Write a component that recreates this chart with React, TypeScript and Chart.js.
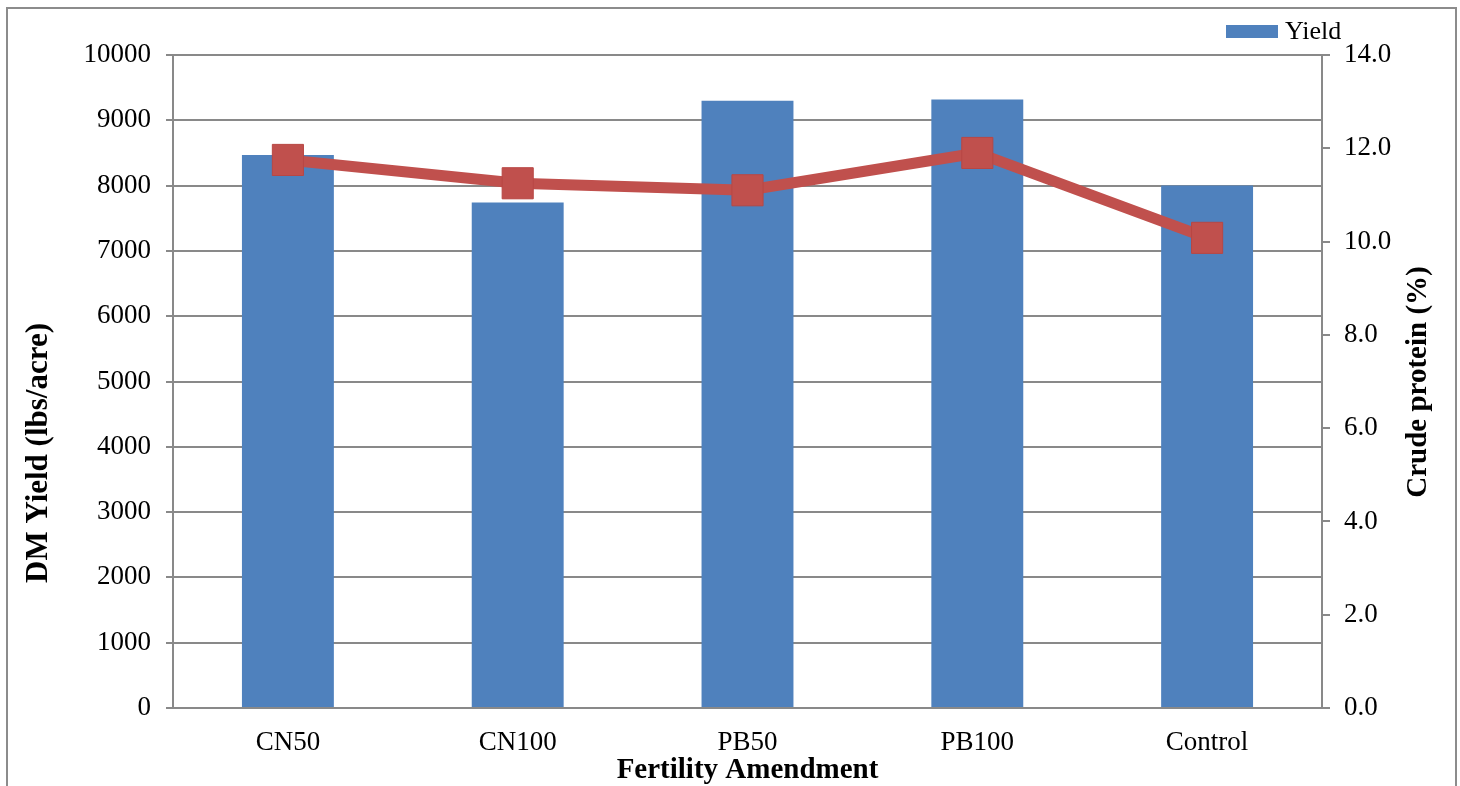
import React, { useEffect, useRef } from "react";
import { Chart, registerables } from "chart.js";

Chart.register(...registerables);

const categories = ["CN50", "CN100", "PB50", "PB100", "Control"];
const yieldValues = [8470, 7740, 9300, 9320, 8000];
const proteinValues = [11.75, 11.25, 11.1, 11.9, 10.08];
const yieldTicks = [0, 1000, 2000, 3000, 4000, 5000, 6000, 7000, 8000, 9000, 10000];
const proteinTicks = [0, 2, 4, 6, 8, 10, 12, 14];

const FONT = "'Liberation Serif', 'Times New Roman', serif";
const GRID = "#898989";

const overlay = {
  id: "overlay",
  afterDraw(chart: any) {
    const ctx = chart.ctx;
    const area = chart.chartArea;
    ctx.save();
    // legend
    ctx.fillStyle = "#4F81BD";
    ctx.fillRect(1226, 25, 52, 13);
    ctx.fillStyle = "#000";
    ctx.font = `26px ${FONT}`;
    ctx.textBaseline = "middle";
    ctx.textAlign = "left";
    ctx.fillText("Yield", 1285, 32);
    // x title
    ctx.font = `bold 29px ${FONT}`;
    ctx.textAlign = "center";
    ctx.fillText("Fertility Amendment", (area.left + area.right) / 2, 771);
    // left title
    ctx.save();
    ctx.font = `bold 31px ${FONT}`;
    ctx.translate(39, 453);
    ctx.rotate(-Math.PI / 2);
    ctx.fillText("DM Yield (lbs/acre)", 0, 0);
    ctx.restore();
    // right title
    ctx.save();
    ctx.font = `bold 29px ${FONT}`;
    ctx.translate(1419, 382);
    ctx.rotate(-Math.PI / 2);
    ctx.fillText("Crude protein (%)", 0, 0);
    ctx.restore();
    ctx.restore();
  },
};

export default function App() {
  const ref = useRef<HTMLCanvasElement>(null);
  useEffect(() => {
    if (!ref.current) return;
    const chart = new Chart(ref.current, {
      type: "bar",
      data: {
        labels: categories,
        datasets: [
          {
            type: "line",
            label: "Crude protein",
            data: proteinValues,
            yAxisID: "y1",
            borderColor: "#C0504D",
            backgroundColor: "#C0504D",
            borderWidth: 11,
            pointStyle: "rect",
            pointRadius: 22,
            pointBorderWidth: 1,
            pointBorderColor: "#B84744",
            pointBackgroundColor: "#C0504D",
            tension: 0,
            order: 0,
          } as any,
          {
            type: "bar",
            label: "Yield",
            data: yieldValues,
            yAxisID: "y",
            backgroundColor: "#4F81BD",
            borderWidth: 0,
            barPercentage: 0.4,
            categoryPercentage: 1,
            order: 1,
          },
        ],
      },
      options: {
        responsive: false,
        animation: false,
        layout: { padding: { top: 55, left: 0, right: 0, bottom: 0 } },
        plugins: { legend: { display: false }, tooltip: { enabled: false } },
        scales: {
          x: {
            grid: { display: false },
            border: { display: true, color: GRID, width: 2 },
            ticks: { color: "#000", font: { family: FONT, size: 27 }, padding: 11 },
            afterFit: (s: any) => { s.height = 78; },
          },
          y: {
            position: "left",
            min: 0,
            max: 10000,
            afterBuildTicks: (s: any) => { s.ticks = yieldTicks.map((v) => ({ value: v })); },
            grid: { color: GRID, lineWidth: 2, tickLength: 7, tickColor: GRID },
            border: { display: true, color: GRID, width: 2 },
            ticks: {
              color: "#000",
              font: { family: FONT, size: 27 },
              padding: 15,
              callback: (v: any) => String(v),
            },
            afterFit: (s: any) => { s.width = 173; },
          },
          y1: {
            position: "right",
            min: 0,
            max: 14,
            afterBuildTicks: (s: any) => { s.ticks = proteinTicks.map((v) => ({ value: v })); },
            grid: { drawOnChartArea: false, color: GRID, lineWidth: 2, tickLength: 8, tickColor: GRID },
            border: { display: true, color: GRID, width: 2 },
            ticks: {
              color: "#000",
              font: { family: FONT, size: 27 },
              padding: 14,
              callback: (v: any) => Number(v).toFixed(1),
            },
            afterFit: (s: any) => { s.width = 138; },
          },
        },
      },
      plugins: [overlay],
    });
    return () => chart.destroy();
  }, []);
  return (
    <div style={{ position: "fixed", left: 0, top: 0, width: 1460, height: 786, background: "#fff", overflow: "hidden" }}>
      <div style={{ position: "absolute", left: 6, top: 7, width: 1447, height: 800, border: "2px solid #8c8c8c" }} />
      <canvas ref={ref} width={1460} height={786} style={{ position: "absolute", left: 0, top: 0 }} />
    </div>
  );
}
